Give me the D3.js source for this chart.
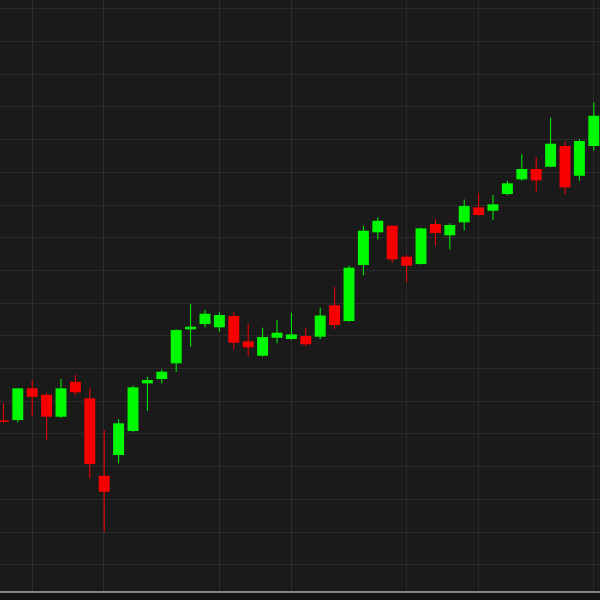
<!DOCTYPE html>
<html>
<head>
<meta charset="utf-8">
<script src="https://cdn.jsdelivr.net/npm/d3@7"></script>
<style>
html,body{margin:0;padding:0;background:#1a1a1a;}
svg{display:block;}
</style>
</head>
<body>
<svg id="chart" width="600" height="600"></svg>
<script>
// OHLC series
const open  = [72.0,72.05,76.9,75.9,72.56,77.9,75.37,63.53,66.7,70.37,77.66,78.32,80.72,85.92,86.73,86.23,87.95,84.08,81.88,84.63,84.44,84.89,84.79,89.59,87.19,95.75,100.75,101.76,97.02,95.9,102.02,100.29,102.28,104.57,104.05,106.61,108.85,110.43,110.78,113.95,109.4,113.95];
const high  = [74.65,76.95,78.17,76.13,78.32,78.93,76.9,70.52,72.16,77.3,78.67,79.8,85.92,89.79,88.87,88.52,88.52,86.84,86.17,87.34,88.46,86.17,89.25,92.39,95.64,101.76,103.04,101.76,97.28,101.45,102.78,102.13,105.77,106.71,106.45,108.64,112.68,112.22,118.27,114.6,114.97,120.63];
const low   = [71.59,71.7,72.56,68.99,72.36,75.87,63.14,54.97,65.43,70.26,73.47,77.66,79.44,83.26,86.23,85.55,82.91,81.88,81.73,83.78,84.28,83.26,84.39,86.01,87.08,94.18,99.68,96.1,93.1,95.83,98.7,98.15,101.03,103.3,102.63,106.45,108.64,106.96,110.69,106.61,108.64,113.23];
const close = [71.82,76.9,75.61,72.56,76.9,76.29,65.32,61.09,71.55,77.05,78.17,79.44,85.81,86.32,88.31,88.11,83.87,83.17,84.74,85.4,85.15,83.63,88.03,86.58,95.34,100.99,102.52,96.62,95.64,101.36,100.64,101.87,104.77,103.4,105.03,108.24,110.43,108.7,114.3,107.63,114.71,118.58];
const xGridIdx = [2,7,15,20,28,33,41];
const yTicks = d3.range(50,136,5);

const W = 600, H = 600;
const svg = d3.select("#chart");
svg.append("rect").attr("width",W).attr("height",H).attr("fill","#1a1a1a");

const idx = d3.range(open.length);
const x = d3.scaleBand().domain(idx).range([-3.8, 601]).paddingInner(0.24).paddingOuter(0.12);
const y = d3.scaleLinear().domain([45.76, 136.27]).range([592, 0]);
const cx = i => x(i) + x.bandwidth()/2;

// grid
const g = svg.append("g");
g.selectAll("line.h").data(yTicks).join("line")
  .attr("x1",0).attr("x2",W)
  .attr("y1",d=>Math.round(y(d))+0.5).attr("y2",d=>Math.round(y(d))+0.5)
  .attr("stroke","#2a2a2a").attr("stroke-width",1);
g.selectAll("line.v").data(xGridIdx).join("line")
  .attr("y1",0).attr("y2",592)
  .attr("x1",d=>Math.round(cx(d)-0.7)+0.5).attr("x2",d=>Math.round(cx(d)-0.7)+0.5)
  .attr("stroke","#2a2a2a").attr("stroke-width",1);

const green = "#00f800", red = "#f80000";
const col = i => close[i] >= open[i] ? green : red;

const c = svg.append("g");
c.selectAll("line.wick").data(idx).join("line")
  .attr("x1",i=>cx(i)).attr("x2",i=>cx(i))
  .attr("y1",i=>y(high[i])).attr("y2",i=>y(low[i]))
  .attr("stroke",col).attr("stroke-width",1);
c.selectAll("rect.body").data(idx).join("rect")
  .attr("x",i=>x(i)).attr("width",x.bandwidth())
  .attr("y",i=>y(Math.max(open[i],close[i])))
  .attr("height",i=>Math.max(1.5, Math.abs(y(open[i])-y(close[i]))))
  .attr("fill",col);

// bottom axis line and strip
svg.append("rect").attr("x",0).attr("y",593).attr("width",W).attr("height",7).attr("fill","#141414");
svg.append("line").attr("x1",0).attr("x2",W).attr("y1",592).attr("y2",592)
  .attr("stroke","#858585").attr("stroke-width",2);
</script>
</body>
</html>
